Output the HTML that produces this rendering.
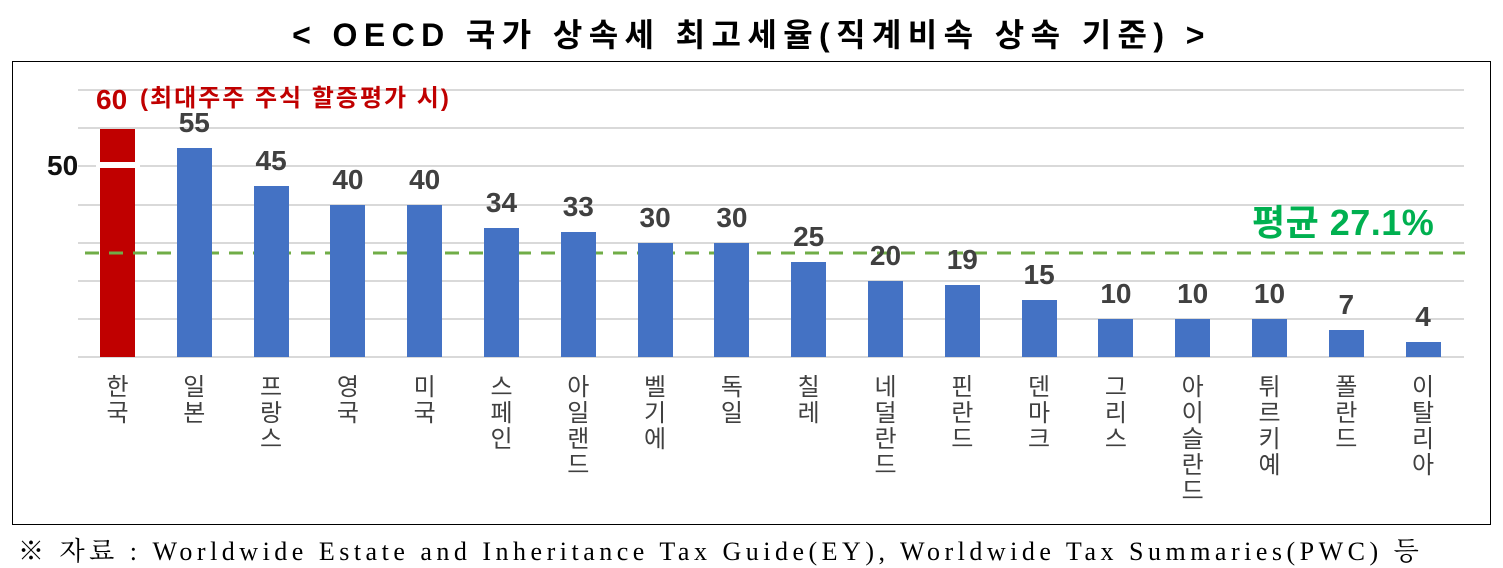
<!DOCTYPE html>
<html><head><meta charset="utf-8"><style>
body{margin:0;background:#fff;width:1503px;height:568px;overflow:hidden;position:relative;font-family:"Liberation Sans","Noto Sans CJK KR",sans-serif}
.t{position:absolute;left:0;width:1503px;top:10px;text-align:center;font-size:32px;font-weight:bold;color:#000;letter-spacing:6.4px}
.box{position:absolute;left:12px;top:61px;width:1479px;height:464px;border:1.5px solid #000;box-sizing:border-box}
.g{position:absolute;left:78px;width:1386px;height:2px;background:#d9d9d9}
.b{position:absolute;width:35px;background:#4472c4}
.v{position:absolute;width:80px;text-align:center;font-size:28px;font-weight:bold;color:#404040}
.l{position:absolute;width:40px;text-align:center;font-size:24px;line-height:26px;color:#404040;top:375px}
.f{position:absolute;left:18px;top:531px;font-family:"Liberation Serif","Noto Serif CJK SC",serif;font-size:26px;letter-spacing:4.5px;color:#000;white-space:nowrap}
</style></head><body>
<div class="t">&lt; OECD 국가 상속세 최고세율(직계비속 상속 기준) &gt;</div>
<div class="box"></div>
<div class="g" style="top:89px"></div><div class="g" style="top:127px"></div><div class="g" style="top:165px"></div><div class="g" style="top:204px"></div><div class="g" style="top:242px"></div><div class="g" style="top:280px"></div><div class="g" style="top:318px"></div><div class="g" style="top:356px"></div>
<div class="b" style="left:100px;top:129px;height:228px;background:#c00000"></div>
<div style="position:absolute;left:96px;top:162px;width:44px;height:6px;background:#fff"></div>
<div style="position:absolute;left:47px;top:150px;font-size:28px;font-weight:bold;color:#111">50</div>
<div style="position:absolute;left:96px;top:84px;font-size:28px;font-weight:bold;color:#c00000">60</div>
<div style="position:absolute;left:140px;top:78px;font-size:24px;letter-spacing:2px;font-weight:bold;color:#c00000">(최대주주 주식 할증평가 시)</div>
<div style="position:absolute;left:1252px;top:194px;font-size:36px;letter-spacing:0.5px;font-weight:bold;color:#00b050">평균 27.1%</div>
<svg style="position:absolute;left:0;top:0" width="1503" height="568"><line x1="85" y1="253" x2="1465" y2="253" stroke="#70ad47" stroke-width="3" stroke-dasharray="14,10"/></svg>
<div id="c"></div>
<div class="f">※ 자료 : Worldwide Estate and Inheritance Tax Guide(EY), Worldwide Tax Summaries(PWC) 등</div>
<script>
var d=[[60,"한국"],[55,"일본"],[45,"프랑스"],[40,"영국"],[40,"미국"],[34,"스페인"],[33,"아일랜드"],[30,"벨기에"],[30,"독일"],[25,"칠레"],[20,"네덜란드"],[19,"핀란드"],[15,"덴마크"],[10,"그리스"],[10,"아이슬란드"],[10,"튀르키예"],[7,"폴란드"],[4,"이탈리아"]];
var h="";d.forEach(function(e,i){var x=100+i*76.8,c=x+17.5,top=357-e[0]*3.8;
if(i>0){h+='<div class="b" style="left:'+x+'px;top:'+top+'px;height:'+(357-top)+'px"></div>';
h+='<div class="v" style="left:'+(c-40)+'px;top:'+(top-41)+'px">'+e[0]+'</div>';}
h+='<div class="l" style="left:'+(c-20)+'px">'+e[1].split("").join("<br>")+'</div>';});
document.getElementById("c").innerHTML=h;
</script>
</body></html>
